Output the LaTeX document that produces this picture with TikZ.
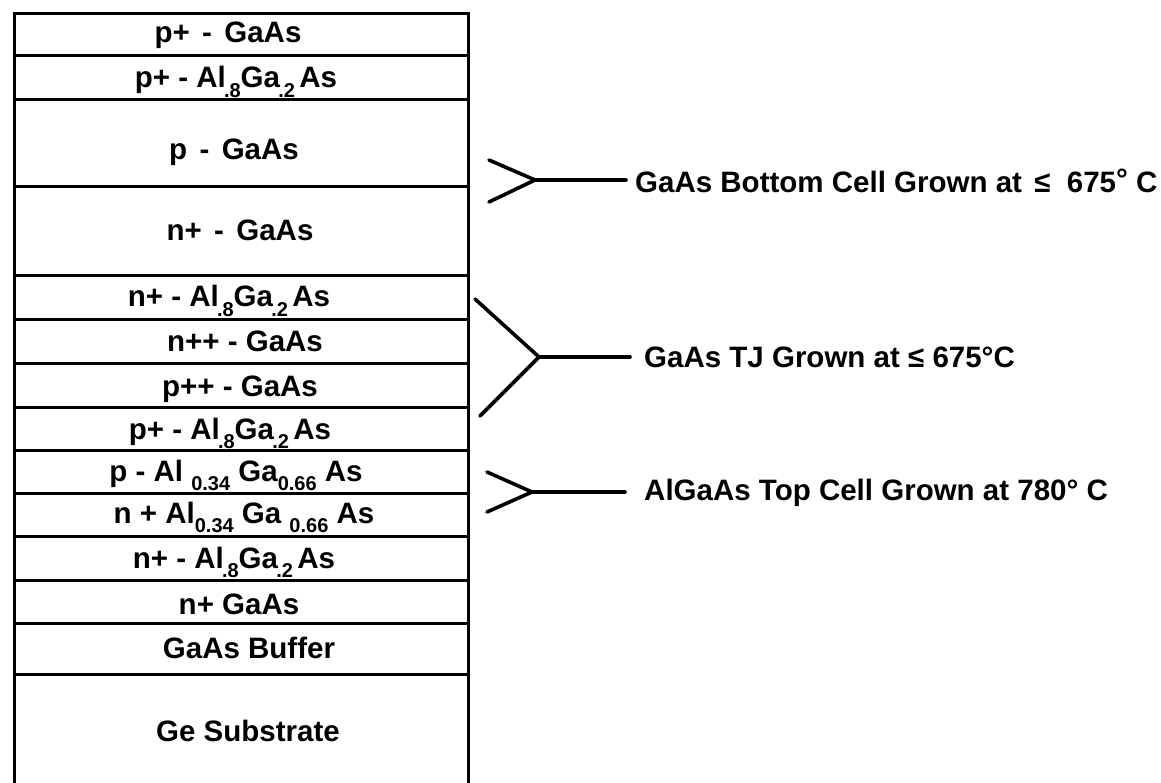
\documentclass[tikz,border=0pt]{standalone}
\usepackage{fontspec}
\setmainfont{Liberation Sans}
\newcommand\sbs[1]{\raisebox{-0.32em}{\fontsize{20}{20}\selectfont #1}}
\newcommand\tsb[1]{\kern-0.06em\raisebox{-0.32em}{\fontsize{20}{20}\selectfont #1}}
\newcommand\wsp{\hspace{0.42em}}
\tikzset{
  layer/.style={draw, line width=2.8pt, rectangle, minimum width=454pt, inner sep=0pt, anchor=north west},
  lbl/.style={font=\fontsize{29.5}{29.5}\selectfont\bfseries, inner sep=0pt, anchor=base},
  note/.style={font=\fontsize{29.5}{30}\selectfont\bfseries, inner sep=0pt, anchor=west},
  brk/.style={line width=3.6pt, line cap=round}
}
\begin{document}
\begin{tikzpicture}[x=1pt,y=-1pt]
\clip (0,0) rectangle (1161,783);
\fill[white] (0,0) rectangle (1161,783);
% layers
\node[layer, minimum height=42pt] (L1) at (13,12) {};
\node[layer, minimum height=44pt] (L2) at (13,54) {};
\node[layer, minimum height=87pt] (L3) at (13,98) {};
\node[layer, minimum height=89pt] (L4) at (13,185) {};
\node[layer, minimum height=44pt] (L5) at (13,274) {};
\node[layer, minimum height=44pt] (L6) at (13,318) {};
\node[layer, minimum height=44pt] (L7) at (13,362) {};
\node[layer, minimum height=43pt] (L8) at (13,406) {};
\node[layer, minimum height=43pt] (L9) at (13,449) {};
\node[layer, minimum height=43pt] (L10) at (13,492) {};
\node[layer, minimum height=44pt] (L11) at (13,535) {};
\node[layer, minimum height=43pt] (L12) at (13,579) {};
\node[layer, minimum height=51pt] (L13) at (13,622) {};
\node[layer, minimum height=130pt] (L14) at (13,673) {};
% labels
\node[lbl] (T1) at (228,43) {p+\wsp-\wsp GaAs};
\node[lbl] (T2) at (236,88) {p+ - Al\tsb{.8}Ga\tsb{.2}\hspace{0.15em}As};
\node[lbl] (T3) at (234,160) {p\wsp-\wsp GaAs};
\node[lbl] (T4) at (240,241) {n+\wsp-\wsp GaAs};
\node[lbl] (T5) at (229,307) {n+ - Al\tsb{.8}Ga\tsb{.2}\hspace{0.15em}As};
\node[lbl] (T6) at (245,351) {n++ - GaAs};
\node[lbl] (T7) at (240,396) {p++ - GaAs};
\node[lbl] (T8) at (230,439) {p+ - Al\tsb{.8}Ga\tsb{.2}\hspace{0.15em}As};
\node[lbl] (T9) at (236,481) {p - Al \sbs{0.34} Ga\sbs{0.66} As};
\node[lbl] (T10) at (244,523) {n + Al\sbs{0.34} Ga \sbs{0.66} As};
\node[lbl] (T11) at (234,568) {n+ - Al\tsb{.8}Ga\tsb{.2}\hspace{0.15em}As};
\node[lbl] (T12) at (239,614) {n+ GaAs};
\node[lbl] (T13) at (249,658) {GaAs Buffer};
\node[lbl] (T14) at (248,741) {Ge Substrate};
% notes
\node[note] (N1) at (635,181) {GaAs Bottom Cell Grown at $\,$≤\ \ 675\raisebox{0.1em}{°}\ C};
\node[note] (N2) at (644,357) {GaAs TJ Grown at ≤ 675°C};
\node[note] (N3) at (644,493) {AlGaAs Top Cell Grown at 780° C};
% brackets
\coordinate (A1) at (535,180);
\coordinate (U1) at (489,160);
\coordinate (D1) at (489,202);
\coordinate (E1) at (626,180);
\draw[brk] (U1) -- (A1) -- (D1);
\draw[brk] (A1) -- (E1);
\coordinate (A2) at (539,357);
\coordinate (U2) at (475,299);
\coordinate (D2) at (480,416);
\coordinate (E2) at (630,357);
\draw[brk] (U2) -- (A2) -- (D2);
\draw[brk] (A2) -- (E2);
\coordinate (A3) at (532,492);
\coordinate (U3) at (487,472);
\coordinate (D3) at (487,512);
\coordinate (E3) at (625,492);
\draw[brk] (U3) -- (A3) -- (D3);
\draw[brk] (A3) -- (E3);
\end{tikzpicture}
\end{document}
